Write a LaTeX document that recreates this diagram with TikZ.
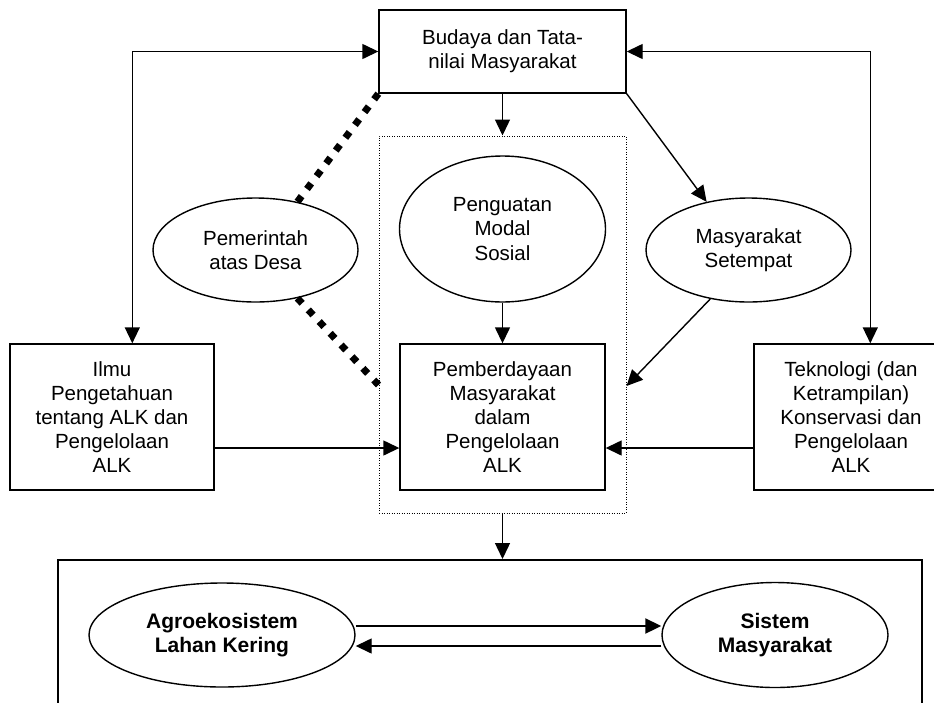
\documentclass[tikz,border=0pt]{standalone}
\usepackage{fontspec}
\setmainfont{Liberation Sans}
\usetikzlibrary{shapes.geometric,arrows.meta}
\begin{document}
\begin{tikzpicture}[x=1pt,y=-1pt,
  every node/.style={font=\fontsize{20.5}{24.2}\selectfont, align=center, inner sep=0pt},
  boxn/.style={draw, line width=1.4pt, rectangle},
  ell/.style={draw, line width=1.4pt, ellipse},
  tip/.tip={Triangle[length=16pt,width=15pt]},
  arr/.style={line width=1.4pt, -tip},
  darr/.style={line width=1.4pt, tip-tip},
  dotline/.style={line width=7pt, dash pattern=on 7pt off 9pt},
  grpbox/.style={draw, line width=1pt, dash pattern=on 1pt off 1.5pt}]
\useasboundingbox (0,0) rectangle (934,702);
\clip (0,0) rectangle (934,702);
\fill[white] (0,0) rectangle (934,702);
% nodes
\node[boxn, minimum width=247pt, minimum height=83pt] (top) at (502.5,51.5) {Budaya dan Tata-\\nilai Masyarakat};
\node[grpbox, minimum width=247pt, minimum height=377pt] (grp) at (502.5,324.5) {};
\node[ell, minimum width=205pt, minimum height=104pt] (pem) at (255.5,250) {Pemerintah\\atas Desa};
\node[ell, minimum width=206pt, minimum height=146pt] (pen) at (502.5,229) {Penguatan\\Modal\\Sosial};
\node[ell, minimum width=205pt, minimum height=104pt] (mas) at (748.5,250) {Masyarakat\\Setempat};
\node[boxn, minimum width=204pt, minimum height=146pt] (ilmu) at (112,417) {Ilmu\\Pengetahuan\\tentang ALK dan\\Pengelolaan\\ALK};
\node[boxn, minimum width=205pt, minimum height=146pt] (pemb) at (502.5,417) {Pemberdayaan\\Masyarakat\\dalam\\Pengelolaan\\ALK};
\node[boxn, minimum width=194pt, minimum height=146pt] (tek) at (851,417) {Teknologi (dan\\Ketrampilan)\\Konservasi dan\\Pengelolaan\\ALK};
\node[draw, line width=2pt, rectangle, minimum width=864pt, minimum height=160pt] (bot) at (490,640) {};
\node[ell, font=\fontsize{21}{24.3}\selectfont\bfseries, minimum width=266pt, minimum height=104pt] (agro) at (222,635) {Agroekosistem\\Lahan Kering};
\node[ell, font=\fontsize{21}{24.3}\selectfont\bfseries, minimum width=226pt, minimum height=105pt] (sis) at (775,635) {Sistem\\Masyarakat};
% connectors
\draw[darr] ([xshift=123pt]ilmu.north west) |- (top.west);
\draw[darr] ([xshift=117pt]tek.north west) |- (top.east);
\draw[arr] (top.south) -- (grp.north);
\draw[arr] (top.south east) -- (mas.131);
\draw[arr] (pen.south) -- (pemb.north);
\draw[arr] (mas.-128) -- ([yshift=-61.5pt]grp.east);
\draw[dotline] (top.south west) -- (pem.49);
\draw[dotline] (pem.-49) -- ([yshift=-60.5pt]grp.west);
\draw[arr] ([yshift=-31pt]ilmu.east) -- ([yshift=-31pt]pemb.west);
\draw[arr] ([yshift=-31pt]tek.west) -- ([yshift=-31pt]pemb.east);
\draw[arr] (grp.south) -- (grp.south |- bot.north);
\draw[arr, line width=2pt] ([yshift=9pt]agro.east) -- ([yshift=9pt]sis.west);
\draw[arr] ([yshift=-11pt]sis.west) -- ([yshift=-11pt]agro.east);
\end{tikzpicture}
\end{document}
